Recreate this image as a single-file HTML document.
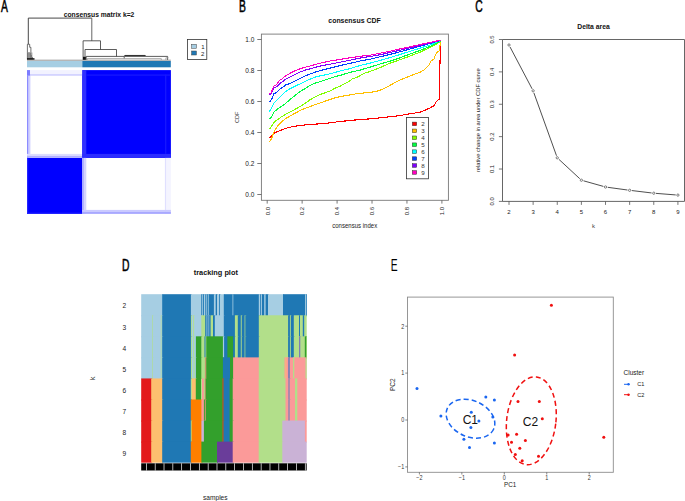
<!DOCTYPE html>
<html><head><meta charset="utf-8"><style>
html,body{margin:0;padding:0;background:#fff;}
body{width:685px;height:501px;overflow:hidden;font-family:"Liberation Sans",sans-serif;}
svg{display:block;}
</style></head><body>
<svg width="685" height="501" viewBox="0 0 685 501">
<rect width="685" height="501" fill="#fff"/>
<text transform="translate(0.90,11.60) scale(0.66,1)" font-family="'Liberation Sans', sans-serif" font-size="15.6" font-weight="normal" text-anchor="start" fill="#000" stroke="#000" stroke-width="0.55">A</text>
<text transform="translate(239.00,11.80) scale(0.66,1)" font-family="'Liberation Sans', sans-serif" font-size="15.6" font-weight="normal" text-anchor="start" fill="#000" stroke="#000" stroke-width="0.55">B</text>
<text transform="translate(475.20,11.80) scale(0.66,1)" font-family="'Liberation Sans', sans-serif" font-size="15.6" font-weight="normal" text-anchor="start" fill="#000" stroke="#000" stroke-width="0.55">C</text>
<text transform="translate(122.00,271.00) scale(0.66,1)" font-family="'Liberation Sans', sans-serif" font-size="15.6" font-weight="normal" text-anchor="start" fill="#000" stroke="#000" stroke-width="0.55">D</text>
<text transform="translate(390.70,271.00) scale(0.66,1)" font-family="'Liberation Sans', sans-serif" font-size="15.6" font-weight="normal" text-anchor="start" fill="#000" >E</text>
<text transform="translate(99.00,17.20)" font-family="'Liberation Sans', sans-serif" font-size="6.75" font-weight="bold" text-anchor="middle" fill="#111" >consensus matrix k=2</text>
<line x1="28.30" y1="18.10" x2="91.80" y2="18.10" stroke="#333" stroke-width="0.9" />
<line x1="28.30" y1="18.10" x2="28.30" y2="44.00" stroke="#333" stroke-width="0.9" />
<line x1="91.80" y1="18.10" x2="91.80" y2="40.80" stroke="#555" stroke-width="0.9" />
<path d="M27.4,59.5 V44.3 H29.7 V47.3 M29.7,47.3 H30.9 V59.5 M27.8,53 V59.5 M29,52 V59.5 M30.2,53 V59.5 M31.4,55 V59.5 M32.4,57 V59.5" stroke="#333" stroke-width="0.7" fill="none"/>
<rect x="27.00" y="52.50" width="5.50" height="7.00" fill="#888"  opacity="0.6"/>
<rect x="27.00" y="58.20" width="7.50" height="1.60" fill="#111" />
<path d="M83.1,60 V40.8 H100.5 V49.5 M85.0,60 V49.5 H116.5 V56.4 M86.2,60 V56.4 H124.2 V58.6 M124.2,56.4 H167.6 V60" stroke="#333" stroke-width="0.8" fill="none"/>
<path d="M124.4,55.5 H145.6" stroke="#333" stroke-width="1.1" fill="none"/>
<path d="M87.2,60 V58.6 H161.3 V60 M165.9,60 V57.8 H168.6" stroke="#9a9a9a" stroke-width="0.8" fill="none"/>
<rect x="83.00" y="56.80" width="2.80" height="3.20" fill="#111" />
<line x1="27.00" y1="60.20" x2="170.80" y2="60.20" stroke="#8a8a8a" stroke-width="0.9" />
<rect x="27.00" y="61.00" width="55.30" height="6.30" fill="#a6cee3" />
<rect x="82.30" y="61.00" width="88.50" height="6.30" fill="#1f78b4" />
<rect x="82.30" y="70.10" width="88.60" height="87.80" fill="#0000ff" />
<rect x="27.00" y="157.90" width="55.30" height="56.00" fill="#0000ff" />
<rect x="27.00" y="70.10" width="1.60" height="87.80" fill="#8c8cff" />
<rect x="28.60" y="70.10" width="1.80" height="87.80" fill="#d0d0ff" />
<rect x="27.00" y="70.10" width="55.30" height="4.20" fill="#f2f2ff" />
<rect x="27.00" y="74.30" width="55.30" height="1.30" fill="#c4c4ff" />
<rect x="27.00" y="70.10" width="3.00" height="5.50" fill="#7c7cff" />
<rect x="27.00" y="153.90" width="55.30" height="2.00" fill="#dcdcff" />
<rect x="27.00" y="155.90" width="55.30" height="2.00" fill="#b0b0ff" />
<rect x="82.30" y="70.10" width="4.00" height="87.80" fill="#3030ff" />
<rect x="82.30" y="153.90" width="88.60" height="4.00" fill="#2c2cff" />
<rect x="86.30" y="74.50" width="84.60" height="1.20" fill="#1818ff" />
<rect x="165.10" y="74.50" width="1.20" height="79.40" fill="#1818ff" />
<rect x="27.00" y="157.90" width="1.20" height="56.00" fill="#2424ff" />
<rect x="27.00" y="212.70" width="55.30" height="1.20" fill="#2424ff" />
<rect x="82.30" y="157.90" width="1.60" height="56.00" fill="#a8a8ff" />
<rect x="83.90" y="157.90" width="2.40" height="56.00" fill="#d4d4ff" />
<rect x="164.90" y="157.90" width="1.50" height="56.00" fill="#e0e0ff" />
<rect x="166.40" y="157.90" width="4.50" height="56.00" fill="#f4f4ff" />
<rect x="82.30" y="209.90" width="88.60" height="2.00" fill="#cacaff" />
<rect x="82.30" y="211.90" width="88.60" height="2.00" fill="#a8a8ff" />
<rect x="187.4" y="39.4" width="19.4" height="20.1" fill="#fff" stroke="#333" stroke-width="0.8"/>
<rect x="191.6" y="44.3" width="4.8" height="4.0" fill="#a6cee3" stroke="#444" stroke-width="0.5"/>
<rect x="191.6" y="51.0" width="4.8" height="4.0" fill="#1f78b4" stroke="#444" stroke-width="0.5"/>
<text transform="translate(201.20,48.80)" font-family="'Liberation Sans', sans-serif" font-size="6.0" font-weight="normal" text-anchor="start" fill="#222" >1</text>
<text transform="translate(201.00,55.70)" font-family="'Liberation Sans', sans-serif" font-size="6.0" font-weight="normal" text-anchor="start" fill="#222" >2</text>
<text transform="translate(354.50,23.30)" font-family="'Liberation Sans', sans-serif" font-size="6.95" font-weight="bold" text-anchor="middle" fill="#111" >consensus CDF</text>
<rect x="261.4" y="34.1" width="187.0" height="166.20000000000002" fill="none" stroke="#777" stroke-width="0.9"/>
<line x1="257.30" y1="194.50" x2="261.40" y2="194.50" stroke="#555" stroke-width="0.8" />
<text transform="translate(254.40,196.90)" font-family="'Liberation Sans', sans-serif" font-size="6.5" font-weight="normal" text-anchor="end" fill="#222" >0.0</text>
<line x1="267.20" y1="200.30" x2="267.20" y2="203.60" stroke="#555" stroke-width="0.8" />
<text transform="translate(269.50,206.90) rotate(-90)" font-family="'Liberation Sans', sans-serif" font-size="6.0" font-weight="normal" text-anchor="end" fill="#222" >0.0</text>
<line x1="257.30" y1="163.50" x2="261.40" y2="163.50" stroke="#555" stroke-width="0.8" />
<text transform="translate(254.40,165.90)" font-family="'Liberation Sans', sans-serif" font-size="6.5" font-weight="normal" text-anchor="end" fill="#222" >0.2</text>
<line x1="302.14" y1="200.30" x2="302.14" y2="203.60" stroke="#555" stroke-width="0.8" />
<text transform="translate(304.44,206.90) rotate(-90)" font-family="'Liberation Sans', sans-serif" font-size="6.0" font-weight="normal" text-anchor="end" fill="#222" >0.2</text>
<line x1="257.30" y1="132.50" x2="261.40" y2="132.50" stroke="#555" stroke-width="0.8" />
<text transform="translate(254.40,134.90)" font-family="'Liberation Sans', sans-serif" font-size="6.5" font-weight="normal" text-anchor="end" fill="#222" >0.4</text>
<line x1="337.08" y1="200.30" x2="337.08" y2="203.60" stroke="#555" stroke-width="0.8" />
<text transform="translate(339.38,206.90) rotate(-90)" font-family="'Liberation Sans', sans-serif" font-size="6.0" font-weight="normal" text-anchor="end" fill="#222" >0.4</text>
<line x1="257.30" y1="101.50" x2="261.40" y2="101.50" stroke="#555" stroke-width="0.8" />
<text transform="translate(254.40,103.90)" font-family="'Liberation Sans', sans-serif" font-size="6.5" font-weight="normal" text-anchor="end" fill="#222" >0.6</text>
<line x1="372.02" y1="200.30" x2="372.02" y2="203.60" stroke="#555" stroke-width="0.8" />
<text transform="translate(374.32,206.90) rotate(-90)" font-family="'Liberation Sans', sans-serif" font-size="6.0" font-weight="normal" text-anchor="end" fill="#222" >0.6</text>
<line x1="257.30" y1="70.50" x2="261.40" y2="70.50" stroke="#555" stroke-width="0.8" />
<text transform="translate(254.40,72.90)" font-family="'Liberation Sans', sans-serif" font-size="6.5" font-weight="normal" text-anchor="end" fill="#222" >0.8</text>
<line x1="406.96" y1="200.30" x2="406.96" y2="203.60" stroke="#555" stroke-width="0.8" />
<text transform="translate(409.26,206.90) rotate(-90)" font-family="'Liberation Sans', sans-serif" font-size="6.0" font-weight="normal" text-anchor="end" fill="#222" >0.8</text>
<line x1="257.30" y1="39.50" x2="261.40" y2="39.50" stroke="#555" stroke-width="0.8" />
<text transform="translate(254.40,41.90)" font-family="'Liberation Sans', sans-serif" font-size="6.5" font-weight="normal" text-anchor="end" fill="#222" >1.0</text>
<line x1="441.90" y1="200.30" x2="441.90" y2="203.60" stroke="#555" stroke-width="0.8" />
<text transform="translate(444.20,206.90) rotate(-90)" font-family="'Liberation Sans', sans-serif" font-size="6.0" font-weight="normal" text-anchor="end" fill="#222" >1.0</text>
<text transform="translate(354.70,227.60) scale(0.915,1)" font-family="'Liberation Sans', sans-serif" font-size="6.6" font-weight="normal" text-anchor="middle" fill="#222" >consensus index</text>
<text transform="translate(239.30,117.30) rotate(-90)" font-family="'Liberation Sans', sans-serif" font-size="5.6" font-weight="normal" text-anchor="middle" fill="#333" >CDF</text>
<polyline points="269.40,138.20 271.00,136.50 274.30,133.00 280.00,130.50 285.40,128.50 290.00,127.20 297.00,125.90 305.00,124.90 312.00,124.20 320.00,123.90 330.00,122.80 340.00,121.50 350.00,120.50 360.00,119.50 370.00,118.90 380.00,117.80 390.00,116.70 400.00,115.60 410.00,113.70 420.00,112.30 424.00,110.70 430.00,107.90 434.00,105.70 436.00,101.90 439.30,99.10 439.80,70.00 440.30,50.00 440.60,41.00" fill="none" stroke="#FF0000" stroke-width="1.1" stroke-linejoin="round" shape-rendering="crispEdges"/>
<polyline points="269.40,142.10 271.50,139.00 273.70,132.40 277.00,127.00 280.00,123.30 285.40,118.80 290.00,116.00 294.50,113.60 300.00,110.50 305.00,108.50 312.00,105.80 320.00,103.00 330.00,99.50 335.00,97.80 340.00,96.60 345.00,95.70 350.00,94.90 355.00,94.00 360.00,93.40 365.00,92.80 370.00,92.40 375.00,91.60 380.00,90.30 385.00,88.00 390.00,85.40 395.00,82.50 400.00,79.90 410.00,76.00 420.00,72.20 424.00,70.00 428.80,65.20 431.00,60.80 434.10,59.00 435.50,54.50 437.30,52.20 439.10,50.90 440.00,45.50 440.90,40.50" fill="none" stroke="#FFBF00" stroke-width="1.1" stroke-linejoin="round" shape-rendering="crispEdges"/>
<polyline points="269.40,129.20 272.00,125.50 274.30,122.00 281.50,116.80 288.00,113.00 294.50,109.70 300.00,106.50 305.00,103.50 310.00,99.80 315.00,97.00 320.00,94.50 330.00,91.00 335.00,88.30 340.00,86.20 345.00,83.50 350.00,80.80 352.50,78.40 355.00,78.10 360.00,75.70 365.00,73.00 370.00,71.50 380.00,67.60 390.00,63.20 400.00,59.70 410.00,56.00 420.00,52.20 430.00,47.50 440.90,41.50" fill="none" stroke="#80FF00" stroke-width="1.1" stroke-linejoin="round" shape-rendering="crispEdges"/>
<polyline points="269.40,119.40 272.00,116.00 274.30,111.60 280.00,107.20 285.00,104.00 289.80,99.60 295.00,95.50 300.00,91.50 305.00,88.60 310.00,85.50 315.00,83.20 320.00,81.70 330.00,78.40 335.00,76.60 340.00,75.40 345.00,73.90 350.00,72.40 355.00,71.20 360.00,70.10 370.00,67.20 380.00,64.00 390.00,61.20 400.00,57.80 410.00,54.00 420.00,50.40 430.00,46.50 440.90,41.00" fill="none" stroke="#00FF40" stroke-width="1.1" stroke-linejoin="round" shape-rendering="crispEdges"/>
<polyline points="269.40,111.60 271.50,108.00 273.80,103.20 277.00,100.00 280.00,96.80 283.00,94.00 286.00,91.20 289.80,88.80 295.00,86.20 300.00,84.00 305.00,81.50 310.00,79.20 315.00,77.20 320.00,75.90 330.00,73.80 340.00,71.00 350.00,68.60 360.00,65.50 370.00,63.20 380.00,60.40 390.00,57.60 400.00,54.50 410.00,51.30 420.00,48.20 430.00,45.00 440.90,40.50" fill="none" stroke="#00FFFF" stroke-width="1.1" stroke-linejoin="round" shape-rendering="crispEdges"/>
<polyline points="269.40,102.20 272.00,98.80 273.80,93.60 276.00,92.80 278.20,90.80 280.50,88.60 283.00,87.20 286.00,84.80 289.80,83.60 295.00,81.00 300.00,78.40 305.00,76.00 310.00,74.00 315.00,72.20 320.00,70.70 330.00,68.20 340.00,65.60 350.00,63.40 360.00,61.00 370.00,59.20 380.00,56.80 390.00,54.40 400.00,51.80 410.00,49.00 420.00,46.20 430.00,43.50 440.90,40.30" fill="none" stroke="#0040FF" stroke-width="1.1" stroke-linejoin="round" shape-rendering="crispEdges"/>
<polyline points="269.40,94.80 271.00,94.00 273.80,88.00 277.00,86.40 280.00,83.20 283.00,81.60 285.00,79.60 289.80,77.20 295.00,74.50 300.00,72.00 305.00,70.20 310.00,68.80 315.00,67.40 320.00,66.10 330.00,64.20 340.00,62.20 350.00,60.20 360.00,58.10 370.00,56.50 380.00,54.80 390.00,52.50 400.00,50.20 410.00,47.80 420.00,45.40 430.00,43.00 440.90,40.20" fill="none" stroke="#8000FF" stroke-width="1.1" stroke-linejoin="round" shape-rendering="crispEdges"/>
<polyline points="269.40,93.60 271.00,93.20 273.80,86.00 275.40,85.60 277.00,84.00 279.80,80.00 282.20,78.80 284.60,76.40 289.80,73.40 295.00,70.80 300.00,68.80 305.00,67.20 310.00,66.00 315.00,64.50 320.00,63.20 330.00,61.00 340.00,59.40 350.00,57.80 360.00,56.30 370.00,55.20 380.00,53.20 390.00,51.20 400.00,48.90 410.00,46.80 420.00,44.60 430.00,42.40 440.90,40.10" fill="none" stroke="#FF00BF" stroke-width="1.1" stroke-linejoin="round" shape-rendering="crispEdges"/>
<rect x="406.4" y="117.4" width="22" height="61.4" fill="#fff" stroke="#333" stroke-width="0.8"/>
<rect x="412.3" y="122.10" width="4.4" height="3.6" fill="#FF0000" stroke="#333" stroke-width="0.5"/>
<text transform="translate(421.30,126.20)" font-family="'Liberation Sans', sans-serif" font-size="6.2" font-weight="normal" text-anchor="start" fill="#333" >2</text>
<rect x="412.3" y="129.04" width="4.4" height="3.6" fill="#FFBF00" stroke="#333" stroke-width="0.5"/>
<text transform="translate(421.30,133.14)" font-family="'Liberation Sans', sans-serif" font-size="6.2" font-weight="normal" text-anchor="start" fill="#333" >3</text>
<rect x="412.3" y="135.98" width="4.4" height="3.6" fill="#80FF00" stroke="#333" stroke-width="0.5"/>
<text transform="translate(421.30,140.08)" font-family="'Liberation Sans', sans-serif" font-size="6.2" font-weight="normal" text-anchor="start" fill="#333" >4</text>
<rect x="412.3" y="142.92" width="4.4" height="3.6" fill="#00FF40" stroke="#333" stroke-width="0.5"/>
<text transform="translate(421.30,147.02)" font-family="'Liberation Sans', sans-serif" font-size="6.2" font-weight="normal" text-anchor="start" fill="#333" >5</text>
<rect x="412.3" y="149.86" width="4.4" height="3.6" fill="#00FFFF" stroke="#333" stroke-width="0.5"/>
<text transform="translate(421.30,153.96)" font-family="'Liberation Sans', sans-serif" font-size="6.2" font-weight="normal" text-anchor="start" fill="#333" >6</text>
<rect x="412.3" y="156.80" width="4.4" height="3.6" fill="#0040FF" stroke="#333" stroke-width="0.5"/>
<text transform="translate(421.30,160.90)" font-family="'Liberation Sans', sans-serif" font-size="6.2" font-weight="normal" text-anchor="start" fill="#333" >7</text>
<rect x="412.3" y="163.74" width="4.4" height="3.6" fill="#8000FF" stroke="#333" stroke-width="0.5"/>
<text transform="translate(421.30,167.84)" font-family="'Liberation Sans', sans-serif" font-size="6.2" font-weight="normal" text-anchor="start" fill="#333" >8</text>
<rect x="412.3" y="170.68" width="4.4" height="3.6" fill="#FF00BF" stroke="#333" stroke-width="0.5"/>
<text transform="translate(421.30,174.78)" font-family="'Liberation Sans', sans-serif" font-size="6.2" font-weight="normal" text-anchor="start" fill="#333" >9</text>
<text transform="translate(593.50,28.50)" font-family="'Liberation Sans', sans-serif" font-size="6.8" font-weight="bold" text-anchor="middle" fill="#111" >Delta area</text>
<path d="M502.5,39.5 H684.5 V201.4 H502.5 Z" fill="none" stroke="#555" stroke-width="0.9"/>
<line x1="498.90" y1="201.40" x2="502.50" y2="201.40" stroke="#555" stroke-width="0.8" />
<text transform="translate(493.70,201.40) rotate(-90)" font-family="'Liberation Sans', sans-serif" font-size="5.8" font-weight="normal" text-anchor="middle" fill="#222" >0.0</text>
<line x1="498.90" y1="169.02" x2="502.50" y2="169.02" stroke="#555" stroke-width="0.8" />
<text transform="translate(493.70,169.02) rotate(-90)" font-family="'Liberation Sans', sans-serif" font-size="5.8" font-weight="normal" text-anchor="middle" fill="#222" >0.1</text>
<line x1="498.90" y1="136.64" x2="502.50" y2="136.64" stroke="#555" stroke-width="0.8" />
<text transform="translate(493.70,136.64) rotate(-90)" font-family="'Liberation Sans', sans-serif" font-size="5.8" font-weight="normal" text-anchor="middle" fill="#222" >0.2</text>
<line x1="498.90" y1="104.26" x2="502.50" y2="104.26" stroke="#555" stroke-width="0.8" />
<text transform="translate(493.70,104.26) rotate(-90)" font-family="'Liberation Sans', sans-serif" font-size="5.8" font-weight="normal" text-anchor="middle" fill="#222" >0.3</text>
<line x1="498.90" y1="71.88" x2="502.50" y2="71.88" stroke="#555" stroke-width="0.8" />
<text transform="translate(493.70,71.88) rotate(-90)" font-family="'Liberation Sans', sans-serif" font-size="5.8" font-weight="normal" text-anchor="middle" fill="#222" >0.4</text>
<line x1="498.90" y1="39.50" x2="502.50" y2="39.50" stroke="#555" stroke-width="0.8" />
<text transform="translate(493.70,39.50) rotate(-90)" font-family="'Liberation Sans', sans-serif" font-size="5.8" font-weight="normal" text-anchor="middle" fill="#222" >0.5</text>
<line x1="509.00" y1="201.40" x2="509.00" y2="204.90" stroke="#555" stroke-width="0.8" />
<text transform="translate(509.00,214.20)" font-family="'Liberation Sans', sans-serif" font-size="6.0" font-weight="normal" text-anchor="middle" fill="#222" >2</text>
<line x1="533.13" y1="201.40" x2="533.13" y2="204.90" stroke="#555" stroke-width="0.8" />
<text transform="translate(533.13,214.20)" font-family="'Liberation Sans', sans-serif" font-size="6.0" font-weight="normal" text-anchor="middle" fill="#222" >3</text>
<line x1="557.26" y1="201.40" x2="557.26" y2="204.90" stroke="#555" stroke-width="0.8" />
<text transform="translate(557.26,214.20)" font-family="'Liberation Sans', sans-serif" font-size="6.0" font-weight="normal" text-anchor="middle" fill="#222" >4</text>
<line x1="581.39" y1="201.40" x2="581.39" y2="204.90" stroke="#555" stroke-width="0.8" />
<text transform="translate(581.39,214.20)" font-family="'Liberation Sans', sans-serif" font-size="6.0" font-weight="normal" text-anchor="middle" fill="#222" >5</text>
<line x1="605.52" y1="201.40" x2="605.52" y2="204.90" stroke="#555" stroke-width="0.8" />
<text transform="translate(605.52,214.20)" font-family="'Liberation Sans', sans-serif" font-size="6.0" font-weight="normal" text-anchor="middle" fill="#222" >6</text>
<line x1="629.65" y1="201.40" x2="629.65" y2="204.90" stroke="#555" stroke-width="0.8" />
<text transform="translate(629.65,214.20)" font-family="'Liberation Sans', sans-serif" font-size="6.0" font-weight="normal" text-anchor="middle" fill="#222" >7</text>
<line x1="653.78" y1="201.40" x2="653.78" y2="204.90" stroke="#555" stroke-width="0.8" />
<text transform="translate(653.78,214.20)" font-family="'Liberation Sans', sans-serif" font-size="6.0" font-weight="normal" text-anchor="middle" fill="#222" >8</text>
<line x1="677.91" y1="201.40" x2="677.91" y2="204.90" stroke="#555" stroke-width="0.8" />
<text transform="translate(677.91,214.20)" font-family="'Liberation Sans', sans-serif" font-size="6.0" font-weight="normal" text-anchor="middle" fill="#222" >9</text>
<text transform="translate(593.50,227.60)" font-family="'Liberation Sans', sans-serif" font-size="6" font-weight="normal" text-anchor="middle" fill="#444" >k</text>
<text transform="translate(480.40,120.30) rotate(-90)" font-family="'Liberation Sans', sans-serif" font-size="5.78" font-weight="normal" text-anchor="middle" fill="#222" >relative change in area under CDF curve</text>
<line x1="510.03" y1="46.95" x2="532.10" y2="88.85" stroke="#222" stroke-width="0.8" />
<line x1="533.88" y1="92.87" x2="556.51" y2="155.73" stroke="#222" stroke-width="0.8" />
<line x1="558.87" y1="159.30" x2="579.78" y2="178.70" stroke="#222" stroke-width="0.8" />
<line x1="583.51" y1="180.80" x2="603.40" y2="186.40" stroke="#222" stroke-width="0.8" />
<line x1="607.70" y1="187.30" x2="627.47" y2="190.00" stroke="#222" stroke-width="0.8" />
<line x1="631.83" y1="190.56" x2="651.60" y2="192.94" stroke="#222" stroke-width="0.8" />
<line x1="655.97" y1="193.37" x2="675.72" y2="194.93" stroke="#222" stroke-width="0.8" />
<circle cx="509.00" cy="45.00" r="1.15" fill="none" stroke="#333" stroke-width="0.6"/>
<circle cx="533.13" cy="90.80" r="1.15" fill="none" stroke="#333" stroke-width="0.6"/>
<circle cx="557.26" cy="157.80" r="1.15" fill="none" stroke="#333" stroke-width="0.6"/>
<circle cx="581.39" cy="180.20" r="1.15" fill="none" stroke="#333" stroke-width="0.6"/>
<circle cx="605.52" cy="187.00" r="1.15" fill="none" stroke="#333" stroke-width="0.6"/>
<circle cx="629.65" cy="190.30" r="1.15" fill="none" stroke="#333" stroke-width="0.6"/>
<circle cx="653.78" cy="193.20" r="1.15" fill="none" stroke="#333" stroke-width="0.6"/>
<circle cx="677.91" cy="195.10" r="1.15" fill="none" stroke="#333" stroke-width="0.6"/>
<text transform="translate(215.80,275.10)" font-family="'Liberation Sans', sans-serif" font-size="7.35" font-weight="bold" text-anchor="middle" fill="#111" >tracking plot</text>
<rect x="141.20" y="294.20" width="22.00" height="22.06" fill="#a6cee3" />
<rect x="162.20" y="294.20" width="29.70" height="22.06" fill="#1f78b4" />
<rect x="190.90" y="294.20" width="11.40" height="22.06" fill="#a6cee3" />
<rect x="201.30" y="294.20" width="1.90" height="22.06" fill="#1f78b4" />
<rect x="202.20" y="294.20" width="1.90" height="22.06" fill="#a6cee3" />
<rect x="203.10" y="294.20" width="1.90" height="22.06" fill="#1f78b4" />
<rect x="204.00" y="294.20" width="2.30" height="22.06" fill="#a6cee3" />
<rect x="205.30" y="294.20" width="2.00" height="22.06" fill="#1f78b4" />
<rect x="206.30" y="294.20" width="1.90" height="22.06" fill="#a6cee3" />
<rect x="207.20" y="294.20" width="2.10" height="22.06" fill="#1f78b4" />
<rect x="208.30" y="294.20" width="1.70" height="22.06" fill="#a6cee3" />
<rect x="209.00" y="294.20" width="5.90" height="22.06" fill="#1f78b4" />
<rect x="213.90" y="294.20" width="2.80" height="22.06" fill="#a6cee3" />
<rect x="215.70" y="294.20" width="2.30" height="22.06" fill="#1f78b4" />
<rect x="217.00" y="294.20" width="3.00" height="22.06" fill="#a6cee3" />
<rect x="219.00" y="294.20" width="1.80" height="22.06" fill="#1f78b4" />
<rect x="219.80" y="294.20" width="5.00" height="22.06" fill="#a6cee3" />
<rect x="223.80" y="294.20" width="9.70" height="22.06" fill="#1f78b4" />
<rect x="232.50" y="294.20" width="1.80" height="22.06" fill="#a6cee3" />
<rect x="233.30" y="294.20" width="26.50" height="22.06" fill="#1f78b4" />
<rect x="258.80" y="294.20" width="2.40" height="22.06" fill="#a6cee3" />
<rect x="260.20" y="294.20" width="1.90" height="22.06" fill="#1f78b4" />
<rect x="261.10" y="294.20" width="1.90" height="22.06" fill="#a6cee3" />
<rect x="262.00" y="294.20" width="3.20" height="22.06" fill="#1f78b4" />
<rect x="264.20" y="294.20" width="2.40" height="22.06" fill="#a6cee3" />
<rect x="265.60" y="294.20" width="3.40" height="22.06" fill="#1f78b4" />
<rect x="268.00" y="294.20" width="16.00" height="22.06" fill="#a6cee3" />
<rect x="283.00" y="294.20" width="23.10" height="22.06" fill="#1f78b4" />
<rect x="305.10" y="294.20" width="1.90" height="22.06" fill="#a6cee3" />
<rect x="306.00" y="294.20" width="0.70" height="22.06" fill="#1f78b4" />
<rect x="141.20" y="315.26" width="11.80" height="22.06" fill="#a6cee3" />
<rect x="152.00" y="315.26" width="1.60" height="22.06" fill="#b2df8a" />
<rect x="152.60" y="315.26" width="9.20" height="22.06" fill="#a6cee3" />
<rect x="160.80" y="315.26" width="1.60" height="22.06" fill="#b2df8a" />
<rect x="161.40" y="315.26" width="1.80" height="22.06" fill="#a6cee3" />
<rect x="162.20" y="315.26" width="29.70" height="22.06" fill="#1f78b4" />
<rect x="190.90" y="315.26" width="1.90" height="22.06" fill="#b2df8a" />
<rect x="191.80" y="315.26" width="2.40" height="22.06" fill="#a6cee3" />
<rect x="193.20" y="315.26" width="1.90" height="22.06" fill="#b2df8a" />
<rect x="194.10" y="315.26" width="8.20" height="22.06" fill="#a6cee3" />
<rect x="201.30" y="315.26" width="4.90" height="22.06" fill="#b2df8a" />
<rect x="205.20" y="315.26" width="2.30" height="22.06" fill="#1f78b4" />
<rect x="206.50" y="315.26" width="1.80" height="22.06" fill="#a6cee3" />
<rect x="207.30" y="315.26" width="2.20" height="22.06" fill="#1f78b4" />
<rect x="208.50" y="315.26" width="1.70" height="22.06" fill="#a6cee3" />
<rect x="209.20" y="315.26" width="2.40" height="22.06" fill="#1f78b4" />
<rect x="210.60" y="315.26" width="3.40" height="22.06" fill="#b2df8a" />
<rect x="213.00" y="315.26" width="2.80" height="22.06" fill="#1f78b4" />
<rect x="214.80" y="315.26" width="10.00" height="22.06" fill="#a6cee3" />
<rect x="223.80" y="315.26" width="12.10" height="22.06" fill="#1f78b4" />
<rect x="234.90" y="315.26" width="3.90" height="22.06" fill="#b2df8a" />
<rect x="237.80" y="315.26" width="4.00" height="22.06" fill="#1f78b4" />
<rect x="240.80" y="315.26" width="1.90" height="22.06" fill="#b2df8a" />
<rect x="241.70" y="315.26" width="3.90" height="22.06" fill="#1f78b4" />
<rect x="244.60" y="315.26" width="1.70" height="22.06" fill="#b2df8a" />
<rect x="245.30" y="315.26" width="14.50" height="22.06" fill="#1f78b4" />
<rect x="258.80" y="315.26" width="30.30" height="22.06" fill="#b2df8a" />
<rect x="288.10" y="315.26" width="2.80" height="22.06" fill="#1f78b4" />
<rect x="289.90" y="315.26" width="1.90" height="22.06" fill="#b2df8a" />
<rect x="290.80" y="315.26" width="4.00" height="22.06" fill="#1f78b4" />
<rect x="293.80" y="315.26" width="6.20" height="22.06" fill="#b2df8a" />
<rect x="299.00" y="315.26" width="2.00" height="22.06" fill="#1f78b4" />
<rect x="300.00" y="315.26" width="3.80" height="22.06" fill="#b2df8a" />
<rect x="302.80" y="315.26" width="2.40" height="22.06" fill="#1f78b4" />
<rect x="304.20" y="315.26" width="2.50" height="22.06" fill="#b2df8a" />
<rect x="141.20" y="336.32" width="11.80" height="22.06" fill="#a6cee3" />
<rect x="152.00" y="336.32" width="1.60" height="22.06" fill="#b2df8a" />
<rect x="152.60" y="336.32" width="9.20" height="22.06" fill="#a6cee3" />
<rect x="160.80" y="336.32" width="1.60" height="22.06" fill="#b2df8a" />
<rect x="161.40" y="336.32" width="1.80" height="22.06" fill="#a6cee3" />
<rect x="162.20" y="336.32" width="29.70" height="22.06" fill="#1f78b4" />
<rect x="190.90" y="336.32" width="2.00" height="22.06" fill="#b2df8a" />
<rect x="191.90" y="336.32" width="2.30" height="22.06" fill="#a6cee3" />
<rect x="193.20" y="336.32" width="1.90" height="22.06" fill="#b2df8a" />
<rect x="194.10" y="336.32" width="2.80" height="22.06" fill="#a6cee3" />
<rect x="195.90" y="336.32" width="6.40" height="22.06" fill="#33a02c" />
<rect x="201.30" y="336.32" width="4.20" height="22.06" fill="#b2df8a" />
<rect x="204.50" y="336.32" width="2.00" height="22.06" fill="#1f78b4" />
<rect x="205.50" y="336.32" width="1.80" height="22.06" fill="#b2df8a" />
<rect x="206.30" y="336.32" width="17.60" height="22.06" fill="#33a02c" />
<rect x="222.90" y="336.32" width="2.20" height="22.06" fill="#a6cee3" />
<rect x="224.10" y="336.32" width="4.30" height="22.06" fill="#1f78b4" />
<rect x="227.40" y="336.32" width="6.70" height="22.06" fill="#33a02c" />
<rect x="233.10" y="336.32" width="2.80" height="22.06" fill="#1f78b4" />
<rect x="234.90" y="336.32" width="3.90" height="22.06" fill="#b2df8a" />
<rect x="237.80" y="336.32" width="4.00" height="22.06" fill="#1f78b4" />
<rect x="240.80" y="336.32" width="1.90" height="22.06" fill="#b2df8a" />
<rect x="241.70" y="336.32" width="3.90" height="22.06" fill="#1f78b4" />
<rect x="244.60" y="336.32" width="1.70" height="22.06" fill="#b2df8a" />
<rect x="245.30" y="336.32" width="14.50" height="22.06" fill="#1f78b4" />
<rect x="258.80" y="336.32" width="30.30" height="22.06" fill="#b2df8a" />
<rect x="288.10" y="336.32" width="2.80" height="22.06" fill="#1f78b4" />
<rect x="289.90" y="336.32" width="1.90" height="22.06" fill="#b2df8a" />
<rect x="290.80" y="336.32" width="4.00" height="22.06" fill="#1f78b4" />
<rect x="293.80" y="336.32" width="6.20" height="22.06" fill="#b2df8a" />
<rect x="299.00" y="336.32" width="2.30" height="22.06" fill="#7b7fb5" />
<rect x="300.30" y="336.32" width="5.50" height="22.06" fill="#b2df8a" />
<rect x="304.80" y="336.32" width="2.20" height="22.06" fill="#33a02c" />
<rect x="306.00" y="336.32" width="0.70" height="22.06" fill="#b2df8a" />
<rect x="141.20" y="357.38" width="11.80" height="22.06" fill="#a6cee3" />
<rect x="152.00" y="357.38" width="1.60" height="22.06" fill="#b2df8a" />
<rect x="152.60" y="357.38" width="9.20" height="22.06" fill="#a6cee3" />
<rect x="160.80" y="357.38" width="1.60" height="22.06" fill="#b2df8a" />
<rect x="161.40" y="357.38" width="1.80" height="22.06" fill="#a6cee3" />
<rect x="162.20" y="357.38" width="29.70" height="22.06" fill="#1f78b4" />
<rect x="190.90" y="357.38" width="2.10" height="22.06" fill="#b2df8a" />
<rect x="192.00" y="357.38" width="2.50" height="22.06" fill="#a6cee3" />
<rect x="193.50" y="357.38" width="2.00" height="22.06" fill="#b2df8a" />
<rect x="194.50" y="357.38" width="2.40" height="22.06" fill="#a6cee3" />
<rect x="195.90" y="357.38" width="6.40" height="22.06" fill="#33a02c" />
<rect x="201.30" y="357.38" width="4.60" height="22.06" fill="#b2df8a" />
<rect x="204.90" y="357.38" width="2.40" height="22.06" fill="#c49a6c" />
<rect x="206.30" y="357.38" width="17.60" height="22.06" fill="#33a02c" />
<rect x="222.90" y="357.38" width="8.10" height="22.06" fill="#1f78b4" />
<rect x="230.00" y="357.38" width="4.10" height="22.06" fill="#33a02c" />
<rect x="233.10" y="357.38" width="26.70" height="22.06" fill="#fb9a99" />
<rect x="258.80" y="357.38" width="26.70" height="22.06" fill="#b2df8a" />
<rect x="284.50" y="357.38" width="2.00" height="22.06" fill="#fb9a99" />
<rect x="285.50" y="357.38" width="1.80" height="22.06" fill="#fdbf6f" />
<rect x="286.30" y="357.38" width="2.80" height="22.06" fill="#fb9a99" />
<rect x="288.10" y="357.38" width="2.80" height="22.06" fill="#7b7fb5" />
<rect x="289.90" y="357.38" width="4.10" height="22.06" fill="#fb9a99" />
<rect x="293.00" y="357.38" width="2.30" height="22.06" fill="#b2df8a" />
<rect x="294.30" y="357.38" width="12.20" height="22.06" fill="#fb9a99" />
<rect x="305.50" y="357.38" width="1.20" height="22.06" fill="#b2df8a" />
<rect x="141.20" y="378.44" width="11.00" height="22.06" fill="#e31a1c" />
<rect x="151.20" y="378.44" width="12.00" height="22.06" fill="#fdbf6f" />
<rect x="162.20" y="378.44" width="29.60" height="22.06" fill="#1f78b4" />
<rect x="190.80" y="378.44" width="2.00" height="22.06" fill="#b2df8a" />
<rect x="191.80" y="378.44" width="5.00" height="22.06" fill="#fdbf6f" />
<rect x="195.80" y="378.44" width="6.20" height="22.06" fill="#33a02c" />
<rect x="201.00" y="378.44" width="2.00" height="22.06" fill="#b2df8a" />
<rect x="202.00" y="378.44" width="2.90" height="22.06" fill="#fb9a99" />
<rect x="203.90" y="378.44" width="1.90" height="22.06" fill="#b2df8a" />
<rect x="204.80" y="378.44" width="1.90" height="22.06" fill="#c49a6c" />
<rect x="205.70" y="378.44" width="17.60" height="22.06" fill="#33a02c" />
<rect x="222.30" y="378.44" width="2.30" height="22.06" fill="#b15928" />
<rect x="223.60" y="378.44" width="7.00" height="22.06" fill="#1f78b4" />
<rect x="229.60" y="378.44" width="4.10" height="22.06" fill="#33a02c" />
<rect x="232.70" y="378.44" width="27.00" height="22.06" fill="#fb9a99" />
<rect x="258.70" y="378.44" width="27.80" height="22.06" fill="#b2df8a" />
<rect x="285.50" y="378.44" width="3.90" height="22.06" fill="#fb9a99" />
<rect x="288.40" y="378.44" width="2.20" height="22.06" fill="#7b7fb5" />
<rect x="289.60" y="378.44" width="6.40" height="22.06" fill="#fb9a99" />
<rect x="295.00" y="378.44" width="3.30" height="22.06" fill="#b2df8a" />
<rect x="297.30" y="378.44" width="9.40" height="22.06" fill="#fb9a99" />
<rect x="141.20" y="399.50" width="11.00" height="22.06" fill="#e31a1c" />
<rect x="151.20" y="399.50" width="12.00" height="22.06" fill="#fdbf6f" />
<rect x="162.20" y="399.50" width="29.60" height="22.06" fill="#1f78b4" />
<rect x="190.80" y="399.50" width="11.60" height="22.06" fill="#ff7f00" />
<rect x="201.40" y="399.50" width="3.50" height="22.06" fill="#fb9a99" />
<rect x="203.90" y="399.50" width="1.90" height="22.06" fill="#33a02c" />
<rect x="204.80" y="399.50" width="2.10" height="22.06" fill="#c49a6c" />
<rect x="205.90" y="399.50" width="17.40" height="22.06" fill="#33a02c" />
<rect x="222.30" y="399.50" width="2.30" height="22.06" fill="#b15928" />
<rect x="223.60" y="399.50" width="7.00" height="22.06" fill="#1f78b4" />
<rect x="229.60" y="399.50" width="4.10" height="22.06" fill="#33a02c" />
<rect x="232.70" y="399.50" width="27.00" height="22.06" fill="#fb9a99" />
<rect x="258.70" y="399.50" width="27.80" height="22.06" fill="#b2df8a" />
<rect x="285.50" y="399.50" width="3.90" height="22.06" fill="#fb9a99" />
<rect x="288.40" y="399.50" width="2.20" height="22.06" fill="#7b7fb5" />
<rect x="289.60" y="399.50" width="6.40" height="22.06" fill="#fb9a99" />
<rect x="295.00" y="399.50" width="3.30" height="22.06" fill="#b2df8a" />
<rect x="297.30" y="399.50" width="9.40" height="22.06" fill="#fb9a99" />
<rect x="141.20" y="420.56" width="11.00" height="22.06" fill="#e31a1c" />
<rect x="151.20" y="420.56" width="12.00" height="22.06" fill="#fdbf6f" />
<rect x="162.20" y="420.56" width="29.60" height="22.06" fill="#1f78b4" />
<rect x="190.80" y="420.56" width="1.80" height="22.06" fill="#b2df8a" />
<rect x="191.60" y="420.56" width="10.80" height="22.06" fill="#ff7f00" />
<rect x="201.40" y="420.56" width="3.50" height="22.06" fill="#cab2d6" />
<rect x="203.90" y="420.56" width="19.40" height="22.06" fill="#33a02c" />
<rect x="222.30" y="420.56" width="2.30" height="22.06" fill="#b15928" />
<rect x="223.60" y="420.56" width="7.00" height="22.06" fill="#1f78b4" />
<rect x="229.60" y="420.56" width="4.10" height="22.06" fill="#33a02c" />
<rect x="232.70" y="420.56" width="27.00" height="22.06" fill="#fb9a99" />
<rect x="258.70" y="420.56" width="24.60" height="22.06" fill="#b2df8a" />
<rect x="282.30" y="420.56" width="23.60" height="22.06" fill="#cab2d6" />
<rect x="304.90" y="420.56" width="1.80" height="22.06" fill="#fb9a99" />
<rect x="141.20" y="441.62" width="11.00" height="21.06" fill="#e31a1c" />
<rect x="151.20" y="441.62" width="12.00" height="21.06" fill="#fdbf6f" />
<rect x="162.20" y="441.62" width="29.60" height="21.06" fill="#1f78b4" />
<rect x="190.80" y="441.62" width="11.60" height="21.06" fill="#ff7f00" />
<rect x="201.40" y="441.62" width="16.60" height="21.06" fill="#33a02c" />
<rect x="217.00" y="441.62" width="16.70" height="21.06" fill="#6a3d9a" />
<rect x="232.70" y="441.62" width="27.00" height="21.06" fill="#fb9a99" />
<rect x="258.70" y="441.62" width="24.60" height="21.06" fill="#b2df8a" />
<rect x="282.30" y="441.62" width="24.40" height="21.06" fill="#cab2d6" />
<rect x="141.20" y="463.30" width="165.50" height="7.20" fill="#000" />
<rect x="146.00" y="463.30" width="0.70" height="7.20" fill="#fff" />
<rect x="154.83" y="463.30" width="0.70" height="7.20" fill="#fff" />
<rect x="163.66" y="463.30" width="0.70" height="7.20" fill="#fff" />
<rect x="172.49" y="463.30" width="0.70" height="7.20" fill="#fff" />
<rect x="181.32" y="463.30" width="0.70" height="7.20" fill="#fff" />
<rect x="190.15" y="463.30" width="0.70" height="7.20" fill="#fff" />
<rect x="198.98" y="463.30" width="0.70" height="7.20" fill="#fff" />
<rect x="207.81" y="463.30" width="0.70" height="7.20" fill="#fff" />
<rect x="216.64" y="463.30" width="0.70" height="7.20" fill="#fff" />
<rect x="225.47" y="463.30" width="0.70" height="7.20" fill="#fff" />
<rect x="234.30" y="463.30" width="0.70" height="7.20" fill="#fff" />
<rect x="243.13" y="463.30" width="0.70" height="7.20" fill="#fff" />
<rect x="251.96" y="463.30" width="0.70" height="7.20" fill="#fff" />
<rect x="260.79" y="463.30" width="0.70" height="7.20" fill="#fff" />
<rect x="269.62" y="463.30" width="0.70" height="7.20" fill="#fff" />
<rect x="278.45" y="463.30" width="0.70" height="7.20" fill="#fff" />
<rect x="287.28" y="463.30" width="0.70" height="7.20" fill="#fff" />
<rect x="296.11" y="463.30" width="0.70" height="7.20" fill="#fff" />
<rect x="304.94" y="463.30" width="0.70" height="7.20" fill="#fff" />
<text transform="translate(124.40,308.40)" font-family="'Liberation Sans', sans-serif" font-size="6.6" font-weight="normal" text-anchor="middle" fill="#222" >2</text>
<text transform="translate(124.40,329.54)" font-family="'Liberation Sans', sans-serif" font-size="6.6" font-weight="normal" text-anchor="middle" fill="#222" >3</text>
<text transform="translate(124.40,350.68)" font-family="'Liberation Sans', sans-serif" font-size="6.6" font-weight="normal" text-anchor="middle" fill="#222" >4</text>
<text transform="translate(124.40,371.82)" font-family="'Liberation Sans', sans-serif" font-size="6.6" font-weight="normal" text-anchor="middle" fill="#222" >5</text>
<text transform="translate(124.40,392.96)" font-family="'Liberation Sans', sans-serif" font-size="6.6" font-weight="normal" text-anchor="middle" fill="#222" >6</text>
<text transform="translate(124.40,414.10)" font-family="'Liberation Sans', sans-serif" font-size="6.6" font-weight="normal" text-anchor="middle" fill="#222" >7</text>
<text transform="translate(124.40,435.24)" font-family="'Liberation Sans', sans-serif" font-size="6.6" font-weight="normal" text-anchor="middle" fill="#222" >8</text>
<text transform="translate(124.40,456.38)" font-family="'Liberation Sans', sans-serif" font-size="6.6" font-weight="normal" text-anchor="middle" fill="#222" >9</text>
<text transform="translate(94.90,378.40) rotate(-90)" font-family="'Liberation Sans', sans-serif" font-size="6.8" font-weight="normal" text-anchor="middle" fill="#222" >k</text>
<text transform="translate(215.30,499.60)" font-family="'Liberation Sans', sans-serif" font-size="6.6" font-weight="normal" text-anchor="middle" fill="#222" >samples</text>
<rect x="407.5" y="297.1" width="205.79999999999995" height="175.2" fill="#fff" stroke="#8c8c8c" stroke-width="0.9"/>
<line x1="419.40" y1="472.30" x2="419.40" y2="474.50" stroke="#555" stroke-width="0.7" />
<text transform="translate(419.40,479.60) scale(0.85,1)" font-family="'Liberation Sans', sans-serif" font-size="6.4" font-weight="normal" text-anchor="middle" fill="#333" >−2</text>
<line x1="461.85" y1="472.30" x2="461.85" y2="474.50" stroke="#555" stroke-width="0.7" />
<text transform="translate(461.85,479.60) scale(0.85,1)" font-family="'Liberation Sans', sans-serif" font-size="6.4" font-weight="normal" text-anchor="middle" fill="#333" >−1</text>
<line x1="504.30" y1="472.30" x2="504.30" y2="474.50" stroke="#555" stroke-width="0.7" />
<text transform="translate(504.30,479.60) scale(0.85,1)" font-family="'Liberation Sans', sans-serif" font-size="6.4" font-weight="normal" text-anchor="middle" fill="#333" >0</text>
<line x1="546.75" y1="472.30" x2="546.75" y2="474.50" stroke="#555" stroke-width="0.7" />
<text transform="translate(546.75,479.60) scale(0.85,1)" font-family="'Liberation Sans', sans-serif" font-size="6.4" font-weight="normal" text-anchor="middle" fill="#333" >1</text>
<line x1="589.20" y1="472.30" x2="589.20" y2="474.50" stroke="#555" stroke-width="0.7" />
<text transform="translate(589.20,479.60) scale(0.85,1)" font-family="'Liberation Sans', sans-serif" font-size="6.4" font-weight="normal" text-anchor="middle" fill="#333" >2</text>
<line x1="405.30" y1="466.90" x2="407.50" y2="466.90" stroke="#555" stroke-width="0.7" />
<text transform="translate(404.30,469.20) scale(0.85,1)" font-family="'Liberation Sans', sans-serif" font-size="6.4" font-weight="normal" text-anchor="end" fill="#333" >−1</text>
<line x1="405.30" y1="420.00" x2="407.50" y2="420.00" stroke="#555" stroke-width="0.7" />
<text transform="translate(404.30,422.30) scale(0.85,1)" font-family="'Liberation Sans', sans-serif" font-size="6.4" font-weight="normal" text-anchor="end" fill="#333" >0</text>
<line x1="405.30" y1="373.10" x2="407.50" y2="373.10" stroke="#555" stroke-width="0.7" />
<text transform="translate(404.30,375.40) scale(0.85,1)" font-family="'Liberation Sans', sans-serif" font-size="6.4" font-weight="normal" text-anchor="end" fill="#333" >1</text>
<line x1="405.30" y1="326.20" x2="407.50" y2="326.20" stroke="#555" stroke-width="0.7" />
<text transform="translate(404.30,328.50) scale(0.85,1)" font-family="'Liberation Sans', sans-serif" font-size="6.4" font-weight="normal" text-anchor="end" fill="#333" >2</text>
<text transform="translate(510.20,487.10) scale(0.9,1)" font-family="'Liberation Sans', sans-serif" font-size="7.0" font-weight="normal" text-anchor="middle" fill="#222" >PC1</text>
<text transform="translate(395.30,384.70) rotate(-90) scale(0.95,1)" font-family="'Liberation Sans', sans-serif" font-size="6.9" font-weight="normal" text-anchor="middle" fill="#222" >PC2</text>
<ellipse cx="470.5" cy="418.7" rx="25.4" ry="18.1" transform="rotate(24 470.5 418.7)" fill="none" stroke="#1a66f0" stroke-width="1.5" stroke-dasharray="5 3"/>
<ellipse cx="531.3" cy="420.8" rx="24.6" ry="44.1" transform="rotate(6.8 531.3 420.8)" fill="none" stroke="#f01010" stroke-width="1.5" stroke-dasharray="5 3.2"/>
<circle cx="417" cy="388.4" r="1.5" fill="#1a66f0"/>
<circle cx="440.9" cy="415.9" r="1.5" fill="#1a66f0"/>
<circle cx="485.8" cy="396.9" r="1.5" fill="#1a66f0"/>
<circle cx="494.4" cy="400" r="1.5" fill="#1a66f0"/>
<circle cx="471.3" cy="412.3" r="1.5" fill="#1a66f0"/>
<circle cx="478.9" cy="420.9" r="1.5" fill="#1a66f0"/>
<circle cx="470.9" cy="427.5" r="1.5" fill="#1a66f0"/>
<circle cx="492.8" cy="416.9" r="1.5" fill="#1a66f0"/>
<circle cx="463.9" cy="439.3" r="1.5" fill="#1a66f0"/>
<circle cx="494.4" cy="442.9" r="1.5" fill="#1a66f0"/>
<circle cx="469.5" cy="447.4" r="1.5" fill="#1a66f0"/>
<circle cx="551.4" cy="305.2" r="1.5" fill="#f01010"/>
<circle cx="514.6" cy="355" r="1.5" fill="#f01010"/>
<circle cx="518" cy="401.5" r="1.5" fill="#f01010"/>
<circle cx="539.3" cy="401.5" r="1.5" fill="#f01010"/>
<circle cx="542.3" cy="418.8" r="1.5" fill="#f01010"/>
<circle cx="508.1" cy="435.1" r="1.5" fill="#f01010"/>
<circle cx="516.6" cy="434.3" r="1.5" fill="#f01010"/>
<circle cx="525.4" cy="440.4" r="1.5" fill="#f01010"/>
<circle cx="511.5" cy="442.3" r="1.5" fill="#f01010"/>
<circle cx="519.8" cy="448.2" r="1.5" fill="#f01010"/>
<circle cx="515.3" cy="454.6" r="1.5" fill="#f01010"/>
<circle cx="522.2" cy="460.7" r="1.5" fill="#f01010"/>
<circle cx="538.5" cy="456.2" r="1.5" fill="#f01010"/>
<circle cx="603.8" cy="437.3" r="1.5" fill="#f01010"/>
<text transform="translate(470.30,423.50)" font-family="'Liberation Sans', sans-serif" font-size="12.0" font-weight="normal" text-anchor="middle" fill="#111" >C1</text>
<text transform="translate(530.40,425.80)" font-family="'Liberation Sans', sans-serif" font-size="12.0" font-weight="normal" text-anchor="middle" fill="#111" >C2</text>
<text transform="translate(623.50,374.80)" font-family="'Liberation Sans', sans-serif" font-size="6.5" font-weight="normal" text-anchor="start" fill="#222" >Cluster</text>
<line x1="624.00" y1="384.30" x2="629.50" y2="384.30" stroke="#1a66f0" stroke-width="1.0" />
<circle cx="628.5" cy="384.3" r="1.2" fill="#1a66f0"/>
<line x1="624.00" y1="394.70" x2="629.50" y2="394.70" stroke="#f01010" stroke-width="1.0" />
<circle cx="628.5" cy="394.7" r="1.2" fill="#f01010"/>
<text transform="translate(637.20,386.40)" font-family="'Liberation Sans', sans-serif" font-size="5.6" font-weight="normal" text-anchor="start" fill="#222" >C1</text>
<text transform="translate(637.20,396.80)" font-family="'Liberation Sans', sans-serif" font-size="5.6" font-weight="normal" text-anchor="start" fill="#222" >C2</text>
</svg>
</body></html>
